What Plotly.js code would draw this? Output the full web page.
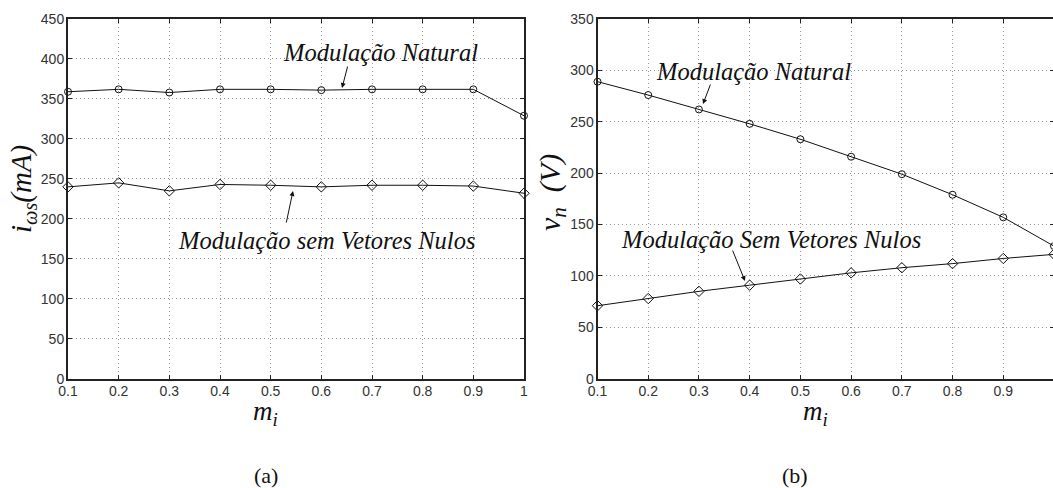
<!DOCTYPE html>
<html><head><meta charset="utf-8">
<script src="https://cdn.plot.ly/plotly-3.0.1.min.js"></script>
<style>html,body{margin:0;padding:0;overflow:hidden;background:#fff;width:1053px;height:488px}#chart{width:1056px;height:488px}</style>
</head><body><div id="chart"></div>
<script>
const mi = [0.1,0.2,0.3,0.4,0.5,0.6,0.7,0.8,0.9,1.0];
const xTickLabels = ['0.1','0.2','0.3','0.4','0.5','0.6','0.7','0.8','0.9','1'];
// (a) i_ws (mA)
const iNatural = [359,362,358,362,362,361,362,362,362,329];
const iSemNulos = [240,245,235,243,242,240,242,242,241,232];
// (b) v_n (V)
const vNatural = [289,276,262,248,233,216,199,179,157,129];
const vSemNulos = [71,78,85,91,97,103,108,112,117,121];
const yTicksA = [0,50,100,150,200,250,300,350,400,450];
const yTicksB = [0,50,100,150,200,250,300,350];

const W = 1056, H = 488;
const px = x => x / W, py = y => 1 - y / H;

const tickFont = () => ({family: 'Liberation Sans, Arial, sans-serif', size: 14, color: '#333'});
const serif = (size, italic) => ({family: 'Liberation Serif, Times New Roman, serif', size: size, color: '#111', style: italic ? 'italic' : 'normal'});

function xAxis(domain, anchor) {
  return {domain: domain, anchor: anchor, range: [0.1, 1.0], tickvals: mi, ticktext: xTickLabels,
    showline: true, linewidth: 2, linecolor: '#222', mirror: 'ticks', ticks: 'inside', ticklen: 4, tickcolor: '#222',
    showgrid: true, gridcolor: '#999', griddash: '1px,3px', gridwidth: 1, zeroline: false, tickfont: tickFont(),
    ticklabelstandoff: -2, fixedrange: true};
}
function yAxis(domain, anchor, range, ticks) {
  return {domain: domain, anchor: anchor, range: range, tickvals: ticks, ticktext: ticks.map(String),
    showline: true, linewidth: 2, linecolor: '#222', mirror: 'ticks', ticks: 'inside', ticklen: 4, tickcolor: '#222',
    showgrid: true, gridcolor: '#999', griddash: '1px,3px', gridwidth: 1, zeroline: false, tickfont: tickFont(),
    ticklabelstandoff: -1, fixedrange: true};
}
const line = () => ({color: '#111', width: 1});
const circ = () => ({symbol: 'circle-open', size: 7, color: '#111', line: {width: 1, color: '#111'}});
const diam = () => ({symbol: 'diamond-open', size: 8, color: '#111', line: {width: 1, color: '#111'}});

const data = [
  {x: mi, y: iNatural, xaxis: 'x', yaxis: 'y', mode: 'lines+markers', line: line(), marker: circ(), cliponaxis: false},
  {x: mi, y: iSemNulos, xaxis: 'x', yaxis: 'y', mode: 'lines+markers', line: line(), marker: diam(), cliponaxis: false},
  {x: mi, y: vNatural, xaxis: 'x2', yaxis: 'y2', mode: 'lines+markers', line: line(), marker: circ(), cliponaxis: false},
  {x: mi, y: vSemNulos, xaxis: 'x2', yaxis: 'y2', mode: 'lines+markers', line: line(), marker: diam(), cliponaxis: false}
];

const yDom = [py(378.7), py(19)];
function txt(t, x, y, font, extra) {
  return Object.assign({text: t, xref: 'paper', yref: 'paper', x: px(x), y: py(y), showarrow: false,
    xanchor: 'center', yanchor: 'middle', font: font}, extra || {});
}
function arrow(tx, ty, ax, ay) {
  return {text: '', xref: 'paper', yref: 'paper', x: px(tx), y: py(ty), ax: ax, ay: ay, showarrow: true,
    arrowhead: 2, arrowsize: 1, arrowwidth: 1, arrowcolor: '#111'};
}
const annotations = [
  txt('Modulação Natural', 380, 52, serif(24.5, true)),
  txt('Modulação sem Vetores Nulos', 326, 240, serif(24.5, true)),
  txt('Modulação Natural', 753, 72, serif(24.5, true)),
  txt('Modulação Sem Vetores Nulos', 771, 239, serif(24.5, true)),
  arrow(342, 88, 6, -23),
  arrow(293, 191, -7, 33),
  arrow(703, 104, 8, -21),
  arrow(745, 281, -13, -32),
  txt('i<sub>ωs</sub>(mA)', 23, 189, serif(29, true), {textangle: -90}),
  txt('v<sub>n</sub>&nbsp;&nbsp;(V)', 552, 193, serif(30, true), {textangle: -90}),
  txt('m<sub>i</sub>', 265, 413, serif(27, true)),
  txt('m<sub>i</sub>', 815, 413, serif(27, true)),
  txt('(a)', 266, 475, serif(22, false)),
  txt('(b)', 795, 475, serif(22, false))
];

const layout = {
  width: W, height: H, margin: {l: 0, r: 0, t: 0, b: 0}, showlegend: false,
  paper_bgcolor: '#fff', plot_bgcolor: '#fff',
  xaxis: xAxis([px(68), px(524)], 'y'),
  yaxis: yAxis(yDom, 'x', [0, 450], yTicksA),
  xaxis2: xAxis([px(597.5), px(1054)], 'y2'),
  yaxis2: yAxis(yDom, 'x2', [0, 350], yTicksB),
  annotations: annotations
};
Plotly.newPlot('chart', data, layout, {staticPlot: true, displayModeBar: false});
</script></body></html>
